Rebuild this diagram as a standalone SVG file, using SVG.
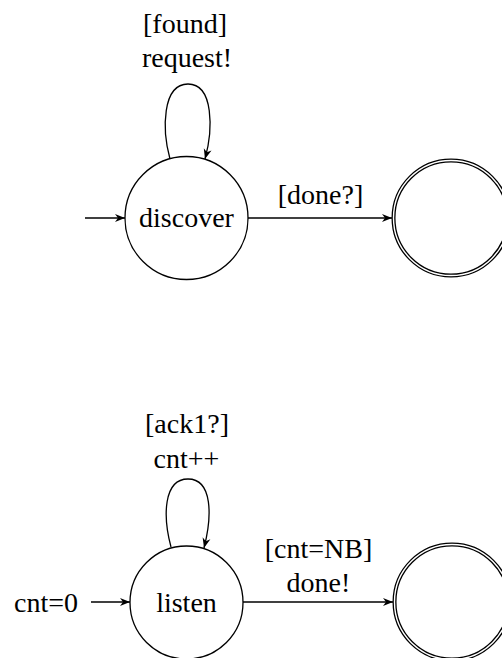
<svg xmlns="http://www.w3.org/2000/svg" width="502" height="658" viewBox="0 0 502 658">
<defs>
<style>
text{font-family:"Liberation Serif","Times New Roman",serif;font-size:28px;fill:#000;text-anchor:middle}
.st{fill:#fff;stroke:#000;stroke-width:1.3}
.acc{fill:#fff;stroke:#000;stroke-width:4}
.acc2{fill:none;stroke:#fff;stroke-width:1.4}
.e{fill:none;stroke:#000;stroke-width:1.3;marker-end:url(#ah)}
</style>
<marker id="ah" markerUnits="userSpaceOnUse" viewBox="-11 -5 12 10" markerWidth="12" markerHeight="10" refX="0" refY="0" orient="auto">
<path d="M0,0 L-10,-4 L-7,0 L-10,4 Z" fill="#000"/>
</marker>
</defs>
<rect width="502" height="658" fill="#fff"/>
<g id="connectors">
<path class="e" d="M85,218 L125,218"/>
<path class="e" d="M248,218 L392,218"/>
<path class="e" d="M170,159 C162,130 162,84 188,84 C214,84 213,130 205,159"/>
<text x="185" y="33">[found]</text>
<text x="187" y="67">request!</text>
<text x="320.5" y="204">[done?]</text>
<path class="e" d="M91,602 L130,602"/>
<text x="46" y="612">cnt=0</text>
<path class="e" d="M243,602 L393,602"/>
<path class="e" d="M171,547 C163,517 163,479 188,479 C213,479 212,517 204,548"/>
<text x="187" y="433">[ack1?]</text>
<text x="186.5" y="468">cnt++</text>
<text x="318.5" y="558">[cnt=NB]</text>
<text x="318.5" y="592">done!</text>
</g>
<g id="discover">
<circle class="st" cx="186.5" cy="218" r="61.5"/>
<text x="186.5" y="227">discover</text>
</g>
<g id="final1">
<circle class="acc" cx="451" cy="218" r="57.5"/>
<circle class="acc2" cx="451" cy="218" r="57.5"/>
</g>
<g id="listen">
<circle class="st" cx="186.5" cy="602.5" r="56.5"/>
<text x="186.5" y="612">listen</text>
</g>
<g id="final2">
<circle class="acc" cx="452" cy="602" r="57.5"/>
<circle class="acc2" cx="452" cy="602" r="57.5"/>
</g>
</svg>
